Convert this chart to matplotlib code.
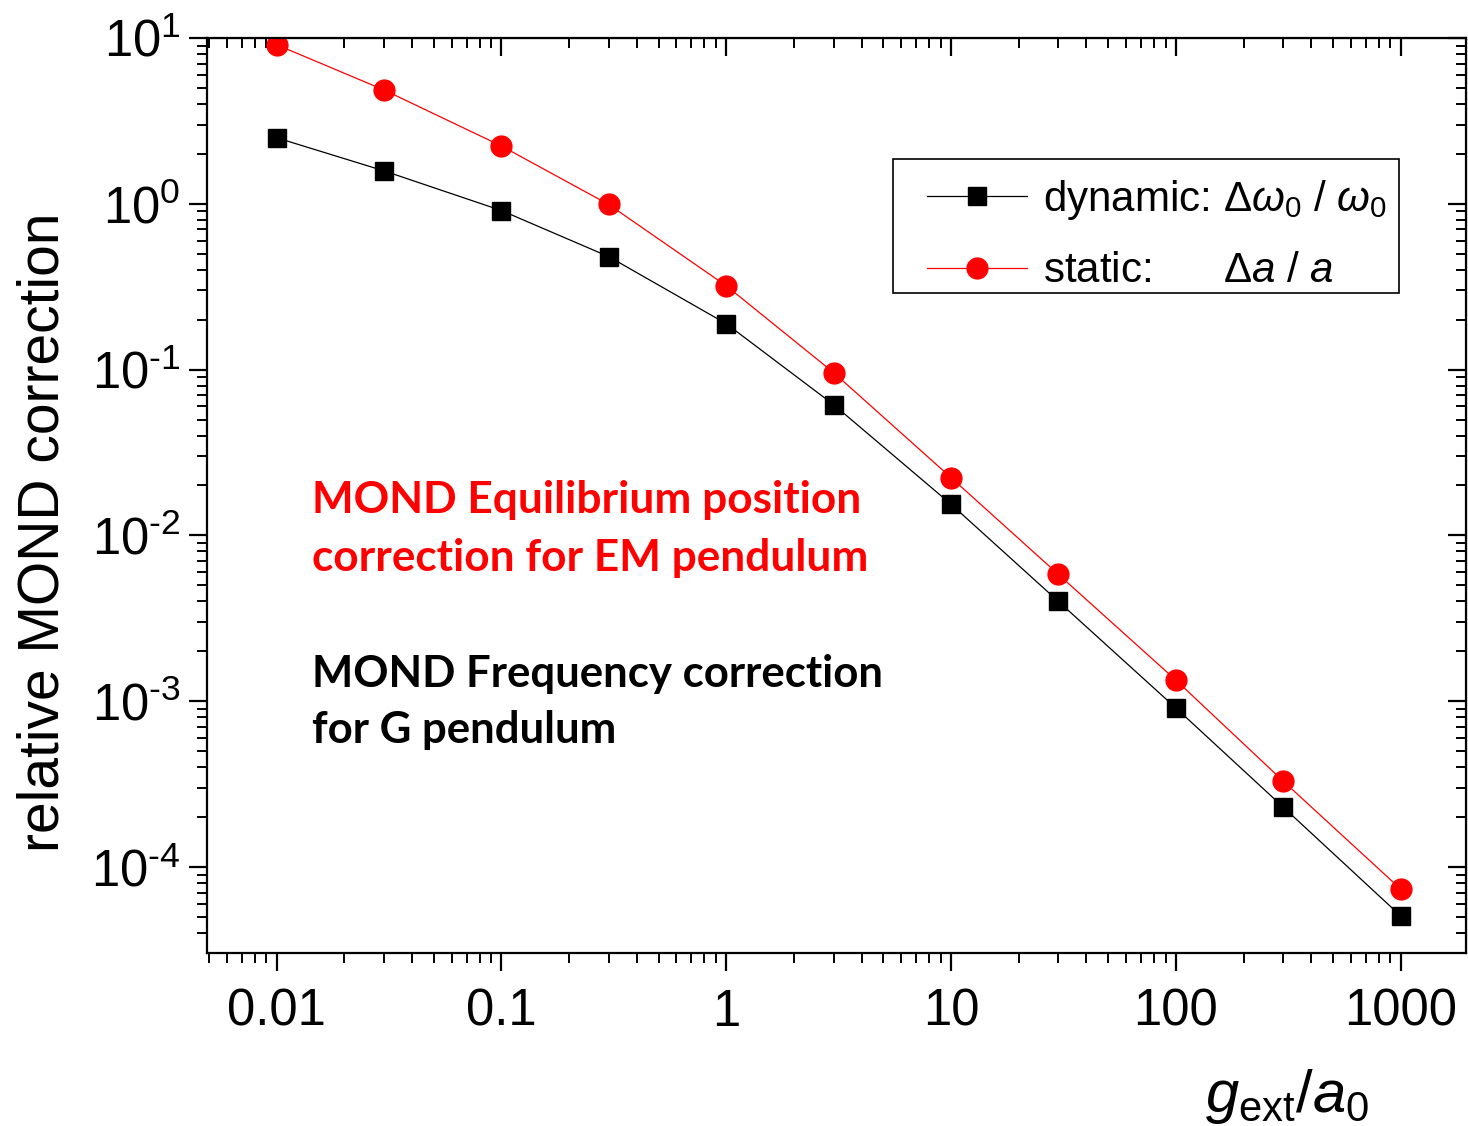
import matplotlib
matplotlib.use("Agg")
import numpy as np
import matplotlib.pyplot as plt
from matplotlib.patches import Rectangle
from matplotlib.ticker import LogLocator, FixedLocator, FixedFormatter, NullFormatter, FuncFormatter

plt.rcParams['font.family'] = ['Liberation Sans', 'DejaVu Sans']
plt.rcParams['mathtext.fontset'] = 'custom'
plt.rcParams['mathtext.rm'] = 'Liberation Sans'
plt.rcParams['mathtext.it'] = 'Liberation Sans:italic'
plt.rcParams['mathtext.default'] = 'regular'

# data
g_ratio = [0.01, 0.03, 0.1, 0.3, 1, 3, 10, 30, 100, 300, 1000]
dynamic = [2.5, 1.58, 0.91, 0.48, 0.189, 0.0615, 0.0154, 0.0040, 9.1e-4, 2.3e-4, 5.07e-5]
static = [9.1, 4.86, 2.23, 0.99, 0.32, 0.096, 0.0223, 0.00582, 0.00134, 3.3e-4, 7.36e-5]
xtick_vals = [0.01, 0.1, 1, 10, 100, 1000]
xtick_labels = ['0.01', '0.1', '1', '10', '100', '1000']


def pow10(v, pos):
    e = int(round(np.log10(v)))
    if e < 0:
        return r'$10^{\text{-}%d}$' % (-e)
    return r'$10^{%d}$' % e


fig = plt.figure(figsize=(14.68, 11.26), dpi=100)
ax = fig.add_axes([0.141, 0.1536, 0.8576, 0.8127])

ax.plot(g_ratio, dynamic, color='black', lw=0.9, marker='s', ms=13,
        label=r'dynamic: $\mathit{\Delta\omega}_{0}$ / $\mathit{\omega}_{0}$')
ax.plot(g_ratio, static, color='red', lw=0.9, marker='o', ms=15,
        label=r'static:      $\mathit{\Delta a}$ / $\mathit{a}$')

ax.set_xscale('log')
ax.set_yscale('log')
ax.set_xlim(0.0049, 1950)
ax.set_ylim(3.03e-5, 10)

ax.xaxis.set_major_locator(FixedLocator(xtick_vals))
ax.xaxis.set_major_formatter(FixedFormatter(xtick_labels))
ax.xaxis.set_minor_locator(LogLocator(base=10, subs=range(2, 10), numticks=20))
ax.xaxis.set_minor_formatter(NullFormatter())
ax.yaxis.set_major_locator(LogLocator(base=10, numticks=20))
ax.yaxis.set_major_formatter(FuncFormatter(pow10))
ax.yaxis.set_minor_locator(LogLocator(base=10, subs=range(2, 10), numticks=20))
ax.yaxis.set_minor_formatter(NullFormatter())

for s in ax.spines.values():
    s.set_linewidth(1.6)

ax.tick_params(axis='both', which='major', direction='out', length=13, width=1.6,
               labelsize=36.5)
ax.tick_params(axis='x', which='major', pad=12)
ax.tick_params(axis='y', which='major', pad=6)
ax.tick_params(axis='both', which='minor', direction='out', length=7, width=1.4)
# mirrored ticks pointing inwards on top and right
ax_top = ax.secondary_xaxis('top')
ax_top.set_xticks(xtick_vals)
ax_top.xaxis.set_minor_locator(LogLocator(base=10, subs=range(2, 10), numticks=20))
ax_top.tick_params(which='major', direction='in', length=13, width=1.6, labeltop=False)
ax_top.tick_params(which='minor', direction='in', length=7, width=1.4)
ax_top.xaxis.set_major_formatter(NullFormatter())
ax_top.xaxis.set_minor_formatter(NullFormatter())
ax_right = ax.secondary_yaxis('right')
ax_right.yaxis.set_major_locator(LogLocator(base=10, numticks=20))
ax_right.yaxis.set_minor_locator(LogLocator(base=10, subs=range(2, 10), numticks=20))
ax_right.tick_params(which='major', direction='in', length=13, width=1.6, labelright=False)
ax_right.tick_params(which='minor', direction='in', length=7, width=1.4)
ax_right.yaxis.set_major_formatter(NullFormatter())
ax_right.yaxis.set_minor_formatter(NullFormatter())

ax.set_ylabel('relative MOND correction', fontsize=41)
ax.yaxis.set_label_coords(-0.1085, 0.46)

# legend box drawn separately, legend itself frameless
ax.add_patch(Rectangle((0.545, 0.7213), 0.4018, 0.1465, transform=ax.transAxes,
                       facecolor='white', edgecolor='black', lw=1.2, zorder=4.5))
leg = ax.legend(loc='upper left', bbox_to_anchor=(0.5719, 0.847), borderaxespad=0,
                fontsize=30.3, frameon=False, borderpad=0,
                handlelength=2.38, handletextpad=0.38, labelspacing=0.7)

note_font = ['Lato', 'DejaVu Sans']
ax.text(0.0834, 0.481, 'MOND Equilibrium position', transform=ax.transAxes,
        color='red', fontsize=31.8, fontweight='bold', family=note_font, va='baseline')
ax.text(0.0834, 0.4175, 'correction for EM pendulum', transform=ax.transAxes,
        color='red', fontsize=31.8, fontweight='bold', family=note_font, va='baseline')
ax.text(0.0834, 0.2907, 'MOND Frequency correction', transform=ax.transAxes,
        color='black', fontsize=31.5, fontweight='bold', family=note_font, va='baseline')
ax.text(0.0834, 0.2295, 'for G pendulum', transform=ax.transAxes,
        color='black', fontsize=31.5, fontweight='bold', family=note_font, va='baseline')

fig.text(0.821, 0.0124, r'$\mathit{g}_{\mathrm{ext}}/\mathit{a}_{0}$', fontsize=43,
         va='baseline')

fig.savefig('out.png', dpi=100)
